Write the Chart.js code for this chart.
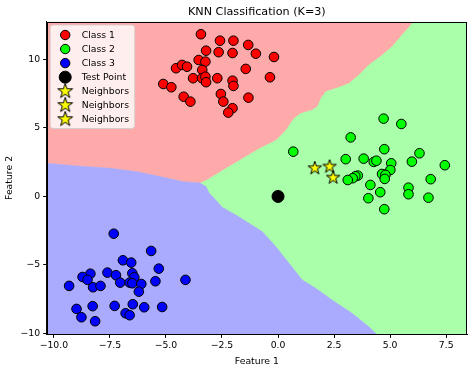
<!DOCTYPE html>
<html>
<head>
<meta charset="utf-8">
<script src="https://cdn.jsdelivr.net/npm/chart.js@4.4.1/dist/chart.umd.min.js"></script>
<style>
  html, body { margin: 0; padding: 0; background: #fff; }
  #wrap { width: 474px; height: 371px; position: relative; }
</style>
</head>
<body>
<div id="wrap"><canvas id="c"></canvas></div>
<script>
// ---------- data ----------
const chartTitle = 'KNN Classification (K=3)';
const xTitle = 'Feature 1';
const yTitle = 'Feature 2';

const xLimits = [-10.32, 8.43];
const yLimits = [-10.07, 12.77];
const xTicks = [-10, -7.5, -5, -2.5, 0, 2.5, 5, 7.5];
const xTickLabels = ['\u221210.0', '\u22127.5', '\u22125.0', '\u22122.5', '0.0', '2.5', '5.0', '7.5'];
const yTicks = [-10, -5, 0, 5, 10];
const yTickLabels = ['\u221210', '\u22125', '0', '5', '10'];

const class1X = [-3.44,-2.59,-1.99,-1.33,-0.99,-3.21,-2.65,-2.03,-3.54,-3.24,-4.55,-4.28,-4.06,-1.44,-3.38,-3.79,-3.39,-3.24,-3.21,-2.71,-2.03,-1.99,-5.12,-4.76,-1.32,-2.55,-2.44,-4.21,-3.91,-2.03,-2.22,-0.18,-0.36];
const class1Y = [11.84,11.37,11.37,11.06,10.42,10.64,10.53,10.47,9.96,9.84,9.36,9.60,9.47,9.31,9.23,8.63,8.63,8.74,8.34,8.63,8.45,8.07,8.21,7.97,7.21,7.48,6.92,7.28,6.92,6.44,6.12,10.18,8.70];

const class2X = [4.71,5.50,3.24,0.68,4.74,6.31,3.02,3.82,4.27,4.39,5.05,5.97,7.44,5.01,4.64,4.79,4.76,3.56,3.45,3.33,3.11,6.81,4.12,5.82,5.82,4.56,4.03,6.71,4.74];
const class2Y = [5.68,5.29,4.31,3.27,3.45,3.15,2.72,2.76,2.52,2.61,2.42,2.54,2.28,1.93,1.64,1.57,1.28,1.52,1.47,1.33,1.20,1.26,0.84,0.64,0.16,0.31,-0.13,-0.09,-0.93];

const class3X = [-7.33,-5.66,-6.92,-6.55,-5.32,-8.37,-8.72,-8.50,-7.61,-7.23,-6.50,-6.41,-7.04,-6.62,-6.50,-6.10,-5.47,-4.13,-9.32,-8.25,-7.92,-6.21,-8.99,-8.27,-7.29,-6.48,-5.97,-5.17,-8.77,-6.80,-6.62,-8.16];
const class3Y = [-2.72,-3.98,-4.66,-4.83,-5.27,-5.64,-5.88,-6.09,-5.56,-5.75,-5.61,-5.90,-6.29,-6.29,-6.34,-6.39,-6.19,-6.09,-6.53,-6.63,-6.53,-6.95,-8.21,-8.01,-7.99,-7.87,-8.09,-8.07,-8.82,-8.53,-8.67,-9.11];

const testX = [0.0];
const testY = [0.0];

const neighborX = [1.64, 2.30, 2.46];
const neighborY = [2.06, 2.18, 1.37];

// decision region boundaries (lower edge of class-1 region, upper edge of class-3 region)
const redBoundaryX = [-10.32,-8.96,-7.48,-6.30,-5.26,-4.22,-3.49,-3.07,-2.48,-1.59,-0.84,-0.10,0.34,0.64,0.71,1.01,1.52,1.75,1.90,2.12,2.79,3.16,3.60,4.04,4.64,5.08,5.52,6.04];
const redBoundaryY = [2.42,2.23,2.06,1.81,1.45,1.08,0.99,1.33,1.93,2.79,3.52,4.12,4.85,5.58,5.73,6.09,6.34,6.58,7.19,7.68,8.04,8.28,8.89,9.62,10.35,10.96,11.81,12.77];
const blueBoundaryX = [-10.32,-8.96,-7.48,-6.30,-5.26,-4.22,-3.49,-3.21,-3.07,-2.92,-2.48,-1.88,-1.29,-0.70,-0.10,0.49,1.08,1.68,2.41,3.30,4.04,4.41];
const blueBoundaryY = [2.42,2.23,2.06,1.81,1.45,1.08,0.99,0.72,0.23,-0.01,-0.80,-1.35,-1.96,-2.57,-3.66,-4.88,-6.09,-6.70,-7.55,-8.53,-9.50,-10.07];

const legendLabels = ['Class 1', 'Class 2', 'Class 3', 'Test Point', 'Neighbors', 'Neighbors', 'Neighbors'];

// ---------- helpers ----------
const pts = (xs, ys) => xs.map((x, i) => ({ x: x, y: ys[i] }));

function makeStar(R) {
  const s = Math.ceil(2 * R + 4);
  const c = document.createElement('canvas');
  c.width = s; c.height = s;
  const g = c.getContext('2d');
  g.translate(s / 2, s / 2);
  g.beginPath();
  for (let k = 0; k < 10; k++) {
    const a = -Math.PI / 2 + k * Math.PI / 5;
    const r = (k % 2 === 0) ? R : R * 0.382;
    const px = r * Math.cos(a), py = r * Math.sin(a);
    if (k === 0) g.moveTo(px, py); else g.lineTo(px, py);
  }
  g.closePath();
  g.fillStyle = '#ffff00';
  g.fill();
  g.lineWidth = 1;
  g.strokeStyle = '#000';
  g.lineJoin = 'miter';
  g.stroke();
  return c;
}
const starImg = makeStar(7);
const legendStarImg = makeStar(7.8);

const FONT = 'DejaVu Sans';
Chart.defaults.font.family = FONT;
Chart.defaults.font.size = 9.3;
Chart.defaults.color = '#000';

const titlePlugin = {
  id: 'mplTitle',
  afterDraw(chart) {
    const ctx = chart.ctx, a = chart.chartArea;
    ctx.save();
    ctx.font = '11.2px "' + FONT + '"';
    ctx.fillStyle = '#000';
    ctx.textAlign = 'center';
    ctx.textBaseline = 'middle';
    ctx.fillText(chartTitle, (a.left + a.right) / 2, 12.5);
    ctx.restore();
  }
};

const framePlugin = {
  id: 'frame',
  afterDatasetsDraw(chart) {
    const ctx = chart.ctx, a = chart.chartArea;
    ctx.save();
    ctx.strokeStyle = '#000';
    ctx.lineWidth = 1;
    ctx.strokeRect(Math.round(a.left) + 0.5, Math.round(a.top) + 0.5,
                   Math.round(a.right - a.left) - 1, Math.round(a.bottom - a.top) - 1);
    ctx.restore();
  }
};

const legendPlugin = {
  id: 'mplLegend',
  afterDatasetsDraw(chart) {
    const ctx = chart.ctx, a = chart.chartArea;
    const bx = a.left + 3.5, by = a.top + 3.5, bw = 84.5, bh = 103.5;
    ctx.save();
    ctx.beginPath();
    if (ctx.roundRect) ctx.roundRect(bx, by, bw, bh, 3); else ctx.rect(bx, by, bw, bh);
    ctx.fillStyle = 'rgba(255,255,255,0.8)';
    ctx.fill();
    ctx.strokeStyle = 'rgba(204,204,204,0.8)';
    ctx.lineWidth = 1;
    ctx.stroke();
    const styles = [
      { t: 'c', fill: '#ff0000', r: 4.7 },
      { t: 'c', fill: '#00ff00', r: 4.7 },
      { t: 'c', fill: '#0000ff', r: 4.7 },
      { t: 'c', fill: '#000000', r: 6 },
      { t: 's' }, { t: 's' }, { t: 's' }
    ];
    const mx = bx + 15, tx = bx + 31.5;
    legendLabels.forEach((lab, i) => {
      const y = by + 10 + i * 14.05;
      const st = styles[i];
      if (st.t === 'c') {
        ctx.beginPath();
        ctx.arc(mx, y, st.r, 0, Math.PI * 2);
        ctx.fillStyle = st.fill;
        ctx.fill();
        ctx.lineWidth = 1;
        ctx.strokeStyle = '#000';
        ctx.stroke();
      } else {
        ctx.drawImage(legendStarImg, mx - legendStarImg.width / 2, y - legendStarImg.height / 2);
      }
      ctx.fillStyle = '#000';
      ctx.font = '9.3px "' + FONT + '"';
      ctx.textAlign = 'left';
      ctx.textBaseline = 'middle';
      ctx.fillText(lab, tx, y + 0.5);
    });
    ctx.restore();
  }
};

const scatterCommon = { borderColor: '#000', borderWidth: 1, pointRadius: 4.8, pointHoverRadius: 4.8, showLine: false };

new Chart(document.getElementById('c'), {
  type: 'scatter',
  data: {
    datasets: [
      Object.assign({ label: 'Neighbors', data: pts(neighborX, neighborY), pointStyle: starImg, order: 1 }, { showLine: false }),
      { label: 'Test Point', data: pts(testX, testY), backgroundColor: '#000', borderColor: '#000', borderWidth: 1, pointRadius: 6, order: 2 },
      Object.assign({ label: 'Class 3', data: pts(class3X, class3Y), backgroundColor: '#0000ff', order: 3 }, scatterCommon),
      Object.assign({ label: 'Class 2', data: pts(class2X, class2Y), backgroundColor: '#00ff00', order: 4 }, scatterCommon),
      Object.assign({ label: 'Class 1', data: pts(class1X, class1Y), backgroundColor: '#ff0000', order: 5 }, scatterCommon),
      { label: 'region3', data: pts(blueBoundaryX, blueBoundaryY), showLine: true, fill: 'start',
        backgroundColor: '#aaaaff', borderColor: '#aaaaff', borderWidth: 0.5, pointRadius: 0, tension: 0, order: 10 },
      { label: 'region1', data: pts(redBoundaryX, redBoundaryY), showLine: true, fill: 'end',
        backgroundColor: '#ffaaaa', borderColor: '#ffaaaa', borderWidth: 0.5, pointRadius: 0, tension: 0, order: 11 },
      { label: 'region2', data: pts(xLimits, [yLimits[1], yLimits[1]]), showLine: true, fill: 'start',
        backgroundColor: '#aaffaa', borderColor: '#aaffaa', borderWidth: 0, pointRadius: 0, order: 12 }
    ]
  },
  options: {
    responsive: true,
    maintainAspectRatio: false,
    animation: false,
    events: [],
    layout: { padding: { left: 0, right: 5.3, top: 21.5, bottom: 0 } },
    plugins: { legend: { display: false }, tooltip: { enabled: false }, title: { display: false } },
    scales: {
      x: {
        type: 'linear', min: xLimits[0], max: xLimits[1],
        afterBuildTicks(s) { s.ticks = xTicks.map(v => ({ value: v })); },
        afterFit(s) { s.height = 36.6; },
        ticks: { callback: (v, i) => xTickLabels[i], padding: 2.5, maxRotation: 0, autoSkip: false, font: { size: 9.3 } },
        grid: { drawOnChartArea: false, drawTicks: true, tickLength: 3.5, tickColor: '#000', color: '#000' },
        border: { display: true, color: '#000', width: 1 },
        title: { display: true, text: xTitle, font: { size: 9.3 }, padding: { top: 0, bottom: 4 } }
      },
      y: {
        type: 'linear', min: yLimits[0], max: yLimits[1],
        afterBuildTicks(s) { s.ticks = yTicks.map(v => ({ value: v })); },
        afterFit(s) { s.width = 46.7; },
        ticks: { callback: (v, i) => yTickLabels[i], padding: 3, autoSkip: false, font: { size: 9.3 } },
        grid: { drawOnChartArea: false, drawTicks: true, tickLength: 3.5, tickColor: '#000', color: '#000' },
        border: { display: true, color: '#000', width: 1 },
        title: { display: true, text: yTitle, font: { size: 9.3 }, padding: { top: 4, bottom: 0 } }
      }
    }
  },
  plugins: [titlePlugin, framePlugin, legendPlugin]
});
</script>
</body>
</html>
